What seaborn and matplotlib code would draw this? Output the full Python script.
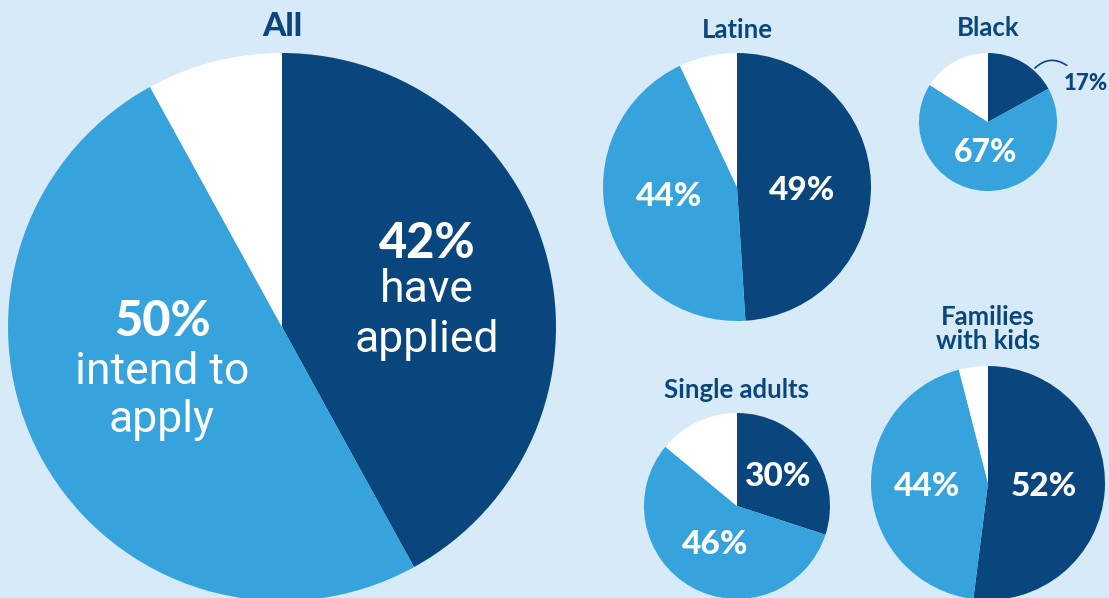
import matplotlib
matplotlib.use("Agg")
import matplotlib.pyplot as plt
import seaborn as sns

# share of each group: have applied / intend to apply / other
groups = ["All", "Latine", "Black", "Single adults", "Families\nwith kids"]
applied = [42, 49, 17, 30, 52]
intend = [50, 44, 67, 56, 44]
other = [8, 7, 16, 14, 4]
applied_labels = ["42%", "49%", "17%", "30%", "52%"]
intend_labels = ["50%", "44%", "67%", "46%", "44%"]

sns.set_theme(style="white")
colors = sns.color_palette(["#09467e", "#36a3dc", "#ffffff"])
navy = "#09467e"
bg = "#d6ebf7"
plt.rcParams['font.family'] = ['Lato', 'DejaVu Sans']

W, H = 1109, 598
fig = plt.figure(figsize=(W / 100, H / 100), dpi=100)
fig.patch.set_facecolor(bg)
ax = fig.add_axes([0, 0, 1, 1])
ax.set_facecolor(bg)


def fy(y):
    # pixel row -> data y
    return H - y


# layout: pie centre (px), radius, title position
layout = [
    dict(c=(282, 327), r=274, title=(282, 27)),
    dict(c=(737, 187), r=134, title=(737, 30)),
    dict(c=(988, 122), r=69, title=(988, 28)),
    dict(c=(737, 506), r=93, title=(737, 390)),
    dict(c=(988, 483), r=117, title=(988, 329)),
]

for i, g in enumerate(groups):
    L = layout[i]
    ax.pie([applied[i], intend[i], other[i]], colors=colors,
           center=(L["c"][0], fy(L["c"][1])), radius=L["r"],
           startangle=90, counterclock=False, frame=True,
           wedgeprops=dict(linewidth=0))
    ax.text(L["title"][0], fy(L["title"][1]), g, ha="center", va="center",
            fontsize=24 if i == 0 else 18.5, fontweight="black" if i == 0 else "bold",
            color=navy, linespacing=1.0)

ax.set_xlim(0, W)
ax.set_ylim(0, H)
ax.set_aspect("equal")
ax.axis("off")

big = dict(color="white", fontweight="black", ha="center", va="center")
light = dict(color="white", family=["Roboto", "DejaVu Sans"], fontweight="normal",
             ha="center", va="center", fontsize=32)

# All
ax.text(427, fy(243), applied_labels[0], fontsize=35, **big)
ax.text(427, fy(290), "have", **light)
ax.text(427, fy(340), "applied", **light)
ax.text(162, fy(322), intend_labels[0], fontsize=35, **big)
ax.text(162, fy(372), "intend to", **light)
ax.text(162, fy(420), "apply", **light)

# Latine
ax.text(802, fy(190), applied_labels[1], fontsize=24, **big)
ax.text(669, fy(196), intend_labels[1], fontsize=24, **big)

# Black
ax.text(986, fy(153), intend_labels[2], fontsize=23, **big)
ax.text(1086, fy(83), applied_labels[2], fontsize=16, color=navy,
        fontweight="black", ha="center", va="center")
ax.annotate("", xy=(1033, fy(70)), xytext=(1069, fy(67)),
            arrowprops=dict(arrowstyle="-", color=navy, lw=1.2,
                            connectionstyle="arc3,rad=0.45"))

# Single adults
ax.text(777, fy(477), applied_labels[3], fontsize=24, **big)
ax.text(715, fy(545), intend_labels[3], fontsize=24, **big)

# Families with kids
ax.text(1044, fy(487), applied_labels[4], fontsize=24, **big)
ax.text(927, fy(487), intend_labels[4], fontsize=24, **big)

fig.savefig("out.png", dpi=100, facecolor=bg)
